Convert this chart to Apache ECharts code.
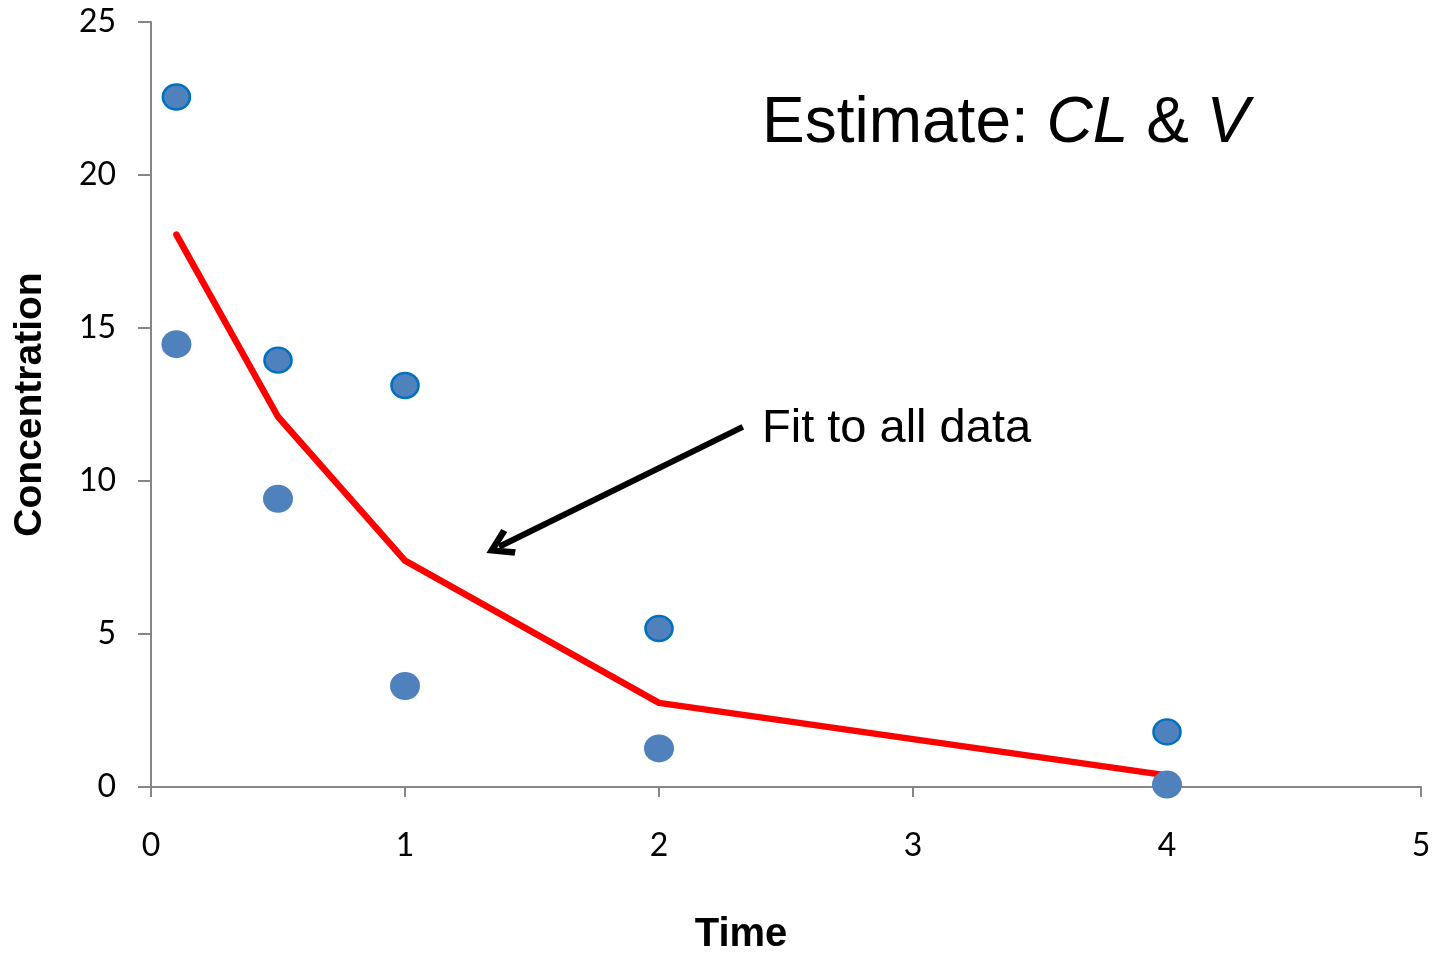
<!DOCTYPE html>
<html>
<head>
<meta charset="utf-8">
<script src="https://cdn.jsdelivr.net/npm/echarts@6/dist/echarts.min.js"></script>
<style>html,body{margin:0;padding:0;background:#fff;}#c{width:1435px;height:956px;}</style>
</head>
<body>
<div id="c"></div>
<script>
// Data
const times = [0.1, 0.5, 1, 2, 4];
const upperObs = [22.55, 13.95, 13.12, 5.18, 1.8];
const lowerObs = [14.47, 9.42, 3.3, 1.26, 0.08];
const fitValues = [18.05, 12.1, 7.4, 2.75, 0.38];
const xTicks = [0, 1, 2, 3, 4, 5];
const yTicks = [0, 5, 10, 15, 20, 25];
const arrowFrom = [2.33, 11.77];
const arrowTo = [1.37, 7.85];

const chart = echarts.init(document.getElementById('c'));
const axisGrey = '#868686';
const tickFont = 'Lato, "Open Sans", sans-serif';
chart.setOption({
  animation: false,
  backgroundColor: '#ffffff',
  grid: { left: 151, right: 14, top: 22, bottom: 169, containLabel: false, outerBoundsMode: 'none' },
  xAxis: {
    type: 'value', min: 0, max: 5, interval: 1,
    name: 'Time', nameLocation: 'middle', nameGap: 128,
    nameTextStyle: { fontFamily: '"Liberation Sans", Arial, sans-serif', fontWeight: 'bold', fontSize: 40, color: '#000', padding: [0, 90, 0, 0] },
    axisLine: { show: true, lineStyle: { color: axisGrey, width: 2 } },
    axisTick: { show: true, inside: false, length: 10, lineStyle: { color: axisGrey, width: 2 } },
    axisLabel: { margin: 43, fontFamily: tickFont, fontSize: 32, color: '#000' },
    splitLine: { show: false }
  },
  yAxis: {
    type: 'value', min: 0, max: 25, interval: 5,
    name: 'Concentration', nameLocation: 'middle', nameGap: 101,
    nameTextStyle: { fontFamily: '"Liberation Sans", Arial, sans-serif', fontWeight: 'bold', fontSize: 39, color: '#000' },
    axisLine: { show: true, lineStyle: { color: axisGrey, width: 2 } },
    axisTick: { show: true, inside: false, length: 13, lineStyle: { color: axisGrey, width: 2 } },
    axisLabel: { margin: 35, fontFamily: tickFont, fontSize: 32, color: '#000' },
    splitLine: { show: false }
  },
  series: [
    {
      type: 'line', z: 2,
      data: times.map((t, i) => [t, fitValues[i]]),
      showSymbol: false, symbol: 'none',
      lineStyle: { color: '#ff0000', width: 6.5, cap: 'round', join: 'round' },
      markLine: {
        silent: true, z: 5,
        symbol: ['none', 'path://M0,0 L14,18 L9,21 L0,9 L-9,21 L-14,18 Z'],
        symbolSize: [30, 28],
        label: { show: false },
        lineStyle: { color: '#000', width: 6, type: 'solid' },
        data: [[{ coord: arrowFrom }, { coord: arrowTo }]]
      }
    },
    {
      type: 'scatter', z: 3,
      data: times.map((t, i) => [t, lowerObs[i]]),
      symbol: 'circle', symbolSize: [30, 28],
      itemStyle: { color: '#4f81bd', opacity: 1 }
    },
    {
      type: 'scatter', z: 3,
      data: times.map((t, i) => [t, upperObs[i]]),
      symbol: 'circle', symbolSize: [27, 25],
      itemStyle: { color: '#4f81bd', borderColor: '#0070c0', borderWidth: 2.5, opacity: 1 }
    }
  ],
  graphic: [
    {
      type: 'text', left: 762, top: 92,
      style: {
        text: '{n|Estimate: }{i|CL}{n| & }{i|V}',
        rich: {
          n: { fontFamily: '"Liberation Sans", Arial, sans-serif', fontSize: 64, fill: '#000', color: '#000' },
          i: { fontFamily: '"Liberation Sans", Arial, sans-serif', fontSize: 64, fontStyle: 'italic', fill: '#000', color: '#000' }
        }
      }
    },
    {
      type: 'text', left: 762, top: 406,
      style: {
        text: 'Fit to all data',
        font: '47px "Liberation Sans", Arial, sans-serif',
        fill: '#000'
      }
    }
  ]
});
</script>
</body>
</html>
